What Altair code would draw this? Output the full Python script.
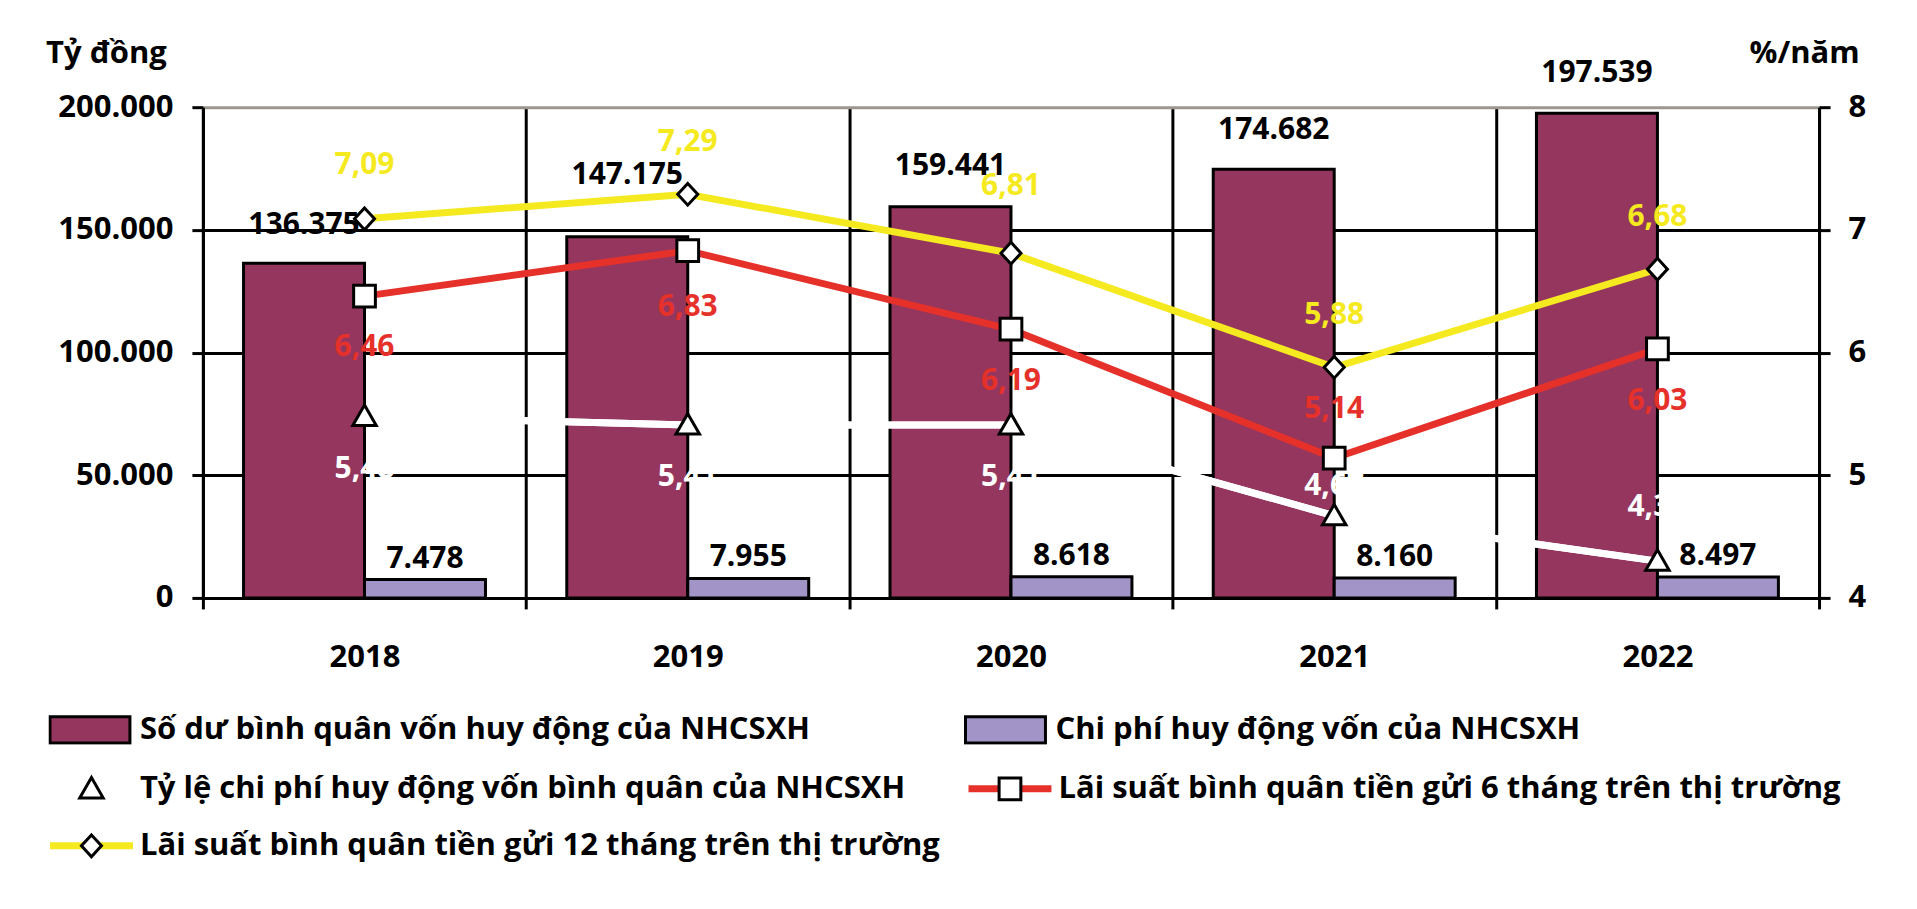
import altair as alt
import pandas as pd

# ---------------- data ----------------
years = ["2018", "2019", "2020", "2021", "2022"]
von_huy_dong = [136375, 147175, 159441, 174682, 197539]   # tỷ đồng
chi_phi = [7478, 7955, 8618, 8160, 8497]                   # tỷ đồng
ty_le_chi_phi = [5.48, 5.41, 5.41, 4.67, 4.30]             # %/năm
lai_suat_6t = [6.46, 6.83, 6.19, 5.14, 6.03]               # %/năm
lai_suat_12t = [7.09, 7.29, 6.81, 5.88, 6.68]              # %/năm

bar_names = ["Số dư bình quân vốn huy động của NHCSXH",
             "Chi phí huy động vốn của NHCSXH"]
line_names = ["Tỷ lệ chi phí huy động vốn bình quân của NHCSXH",
              "Lãi suất bình quân tiền gửi 6 tháng trên thị trường",
              "Lãi suất bình quân tiền gửi 12 tháng trên thị trường"]
line_codes = ["a", "b", "c"]

# ---------------- styling ----------------
FONT = "Open Sans"
FS = 31
PURPLE = "#95365F"
LAVENDER = "#A294C6"
BG = "#D3CCC8"
YELLOW = "#F5EA1F"
RED = "#E5312A"
WHITE = "#FFFFFF"
TOPLINE = "#9C9690"

# label nudges in px (negative = above the point)
dy_von = [-38, -62, -41, -39, -40]
dy_chi_phi = [-21, -21, -21, -21, -21]
dy_ty_le = [53, 52, 52, -30, -54]
dy_6t = [51, 56, 52, -49, 52]
dy_12t = [-54, -52, -67, -52, -52]

W, H = 1617, 491


def fmt_int(v):
    return f"{v:,}".replace(",", ".")


def fmt_rate(v):
    return f"{v:.2f}".replace(".", ",")


bar_series = [von_huy_dong, chi_phi]
bar_dys = [dy_von, dy_chi_phi]
bar_rows = []
for name, vals, dys in zip(bar_names, bar_series, bar_dys):
    for y, v, d in zip(years, vals, dys):
        bar_rows.append({"year": y, "series": name, "value": v,
                         "label": fmt_int(v), "dy": d})
bar_df = pd.DataFrame(bar_rows)

line_series = [ty_le_chi_phi, lai_suat_6t, lai_suat_12t]
line_dys = [dy_ty_le, dy_6t, dy_12t]
line_colors = [WHITE, RED, YELLOW]
line_rows = []
for name, code, vals, dys in zip(line_names, line_codes, line_series, line_dys):
    for y, v, d in zip(years, vals, dys):
        line_rows.append({"year": y, "series": name, "code": code, "value": v,
                          "label": fmt_rate(v), "dy": d})
line_df = pd.DataFrame(line_rows)

# ---------------- scales / axes ----------------
x_axis = alt.Axis(orient="bottom", title=None, tickBand="extent", grid=True,
                  gridColor="black", gridWidth=3, tickSize=11, tickWidth=3,
                  tickColor="black", domainColor="black", domainWidth=3,
                  labelPadding=34, labelAngle=0, labelFont=FONT, labelFontSize=FS,
                  labelFontWeight="bold", labelColor="black")
x_enc = alt.X("year:N", scale=alt.Scale(domain=years, paddingInner=0, paddingOuter=0),
              axis=x_axis)
xoff_enc = alt.XOffset("series:N", scale=alt.Scale(domain=bar_names, paddingInner=0,
                                                   paddingOuter=0.336))

left_axis = alt.Axis(
    orient="left", values=[0, 50000, 100000, 150000, 200000],
    labelExpr="replace(format(datum.value, ','), ',', '.')",
    grid=True,
    gridColor={"condition": {"test": "datum.value === 200000", "value": TOPLINE},
               "value": "black"},
    gridWidth=3, tickSize=11, tickWidth=3, tickColor="black",
    domainColor="black", domainWidth=3, labelPadding=19,
    labelFont=FONT, labelFontSize=FS, labelFontWeight="bold", labelColor="black",
    title="Tỷ đồng", titleAngle=0, titleX=-97, titleY=-54, titleAlign="center",
    titleBaseline="middle", titleFont=FONT, titleFontSize=FS,
    titleFontWeight="bold", titleColor="black")
y_left = alt.Y("value:Q", scale=alt.Scale(domain=[0, 200000], nice=False, zero=True),
               axis=left_axis)

right_axis = alt.Axis(
    orient="right", values=[4, 5, 6, 7, 8], format="d", grid=False,
    tickSize=11, tickWidth=3, tickColor="black", domainColor="black", domainWidth=3,
    labelPadding=18, labelFont=FONT, labelFontSize=FS, labelFontWeight="bold",
    labelColor="black",
    title="%/năm", titleAngle=0, titleX=-15, titleY=-54, titleAlign="center",
    titleBaseline="middle", titleFont=FONT, titleFontSize=FS,
    titleFontWeight="bold", titleColor="black")
y_right = alt.Y("value:Q", scale=alt.Scale(domain=[4, 8], nice=False, zero=False),
                axis=right_axis)

# ---------------- legends ----------------
RECT = "M-1,-0.33H1V0.33H-1Z"
TRI = "M0,-0.26L0.27,0.21L-0.27,0.21Z"
SQ = "M-0.25,-0.25H0.25V0.25H-0.25Z"
DIA = "M0,-0.25L0.23,0L0,0.25L-0.23,0Z"

leg_common = dict(title=None, padding=0, labelFont=FONT, labelFontSize=FS,
                  labelFontWeight="bold", labelColor="black", labelLimit=2000,
                  clipHeight=30, orient="none", columns=2, direction="horizontal")

legend_bars = alt.Legend(legendX=-154.5, legendY=608, symbolType=RECT,
                         symbolSize=6400, symbolStrokeColor="black",
                         symbolStrokeWidth=3, labelOffset=8.5, columnPadding=153,
                         rowPadding=0, **leg_common)
legend_lines = alt.Legend(legendX=-156.5, legendY=667, symbolType="stroke",
                          symbolSize=6889, symbolStrokeWidth=7, labelOffset=3.5,
                          columnPadding=24, rowPadding=26, zindex=1, **leg_common)
code_map = "{" + ", ".join(f"'{c}': '{n}'" for c, n in zip(line_codes, line_names)) + "}"
legend_marks = alt.Legend(legendX=-156.5, legendY=667, symbolSize=7569,
                          symbolStrokeWidth=3, labelOffset=3.5,
                          columnPadding=24, rowPadding=26, zindex=2, labelOpacity=0,
                          labelExpr=code_map + "[datum.label]", **leg_common)

# ---------------- left (bars) ----------------
bars = alt.Chart(bar_df).mark_bar(stroke="black", strokeWidth=3).encode(
    x=x_enc, xOffset=xoff_enc, y=y_left,
    fill=alt.Fill("series:N", scale=alt.Scale(domain=bar_names, range=[PURPLE, LAVENDER]),
                  legend=legend_bars),
)
left_layers = [bars]
for name in bar_names:
    sub = bar_df[bar_df["series"] == name]
    for d in sorted(sub["dy"].unique()):
        part = sub[sub["dy"] == d]
        left_layers.append(
            alt.Chart(part).mark_text(font=FONT, fontSize=30, fontWeight="bold",
                                      color="black", baseline="middle", align="center",
                                      dy=float(d)).encode(
                x=x_enc, xOffset=xoff_enc, y=y_left, text="label:N"))
left = alt.layer(*left_layers)

# ---------------- right (lines) ----------------
lines = alt.Chart(line_df).mark_line(strokeWidth=7).encode(
    x=x_enc, y=y_right,
    stroke=alt.Stroke("series:N", scale=alt.Scale(domain=line_names, range=line_colors),
                      legend=legend_lines),
)
ratio_df = line_df[line_df["series"] == line_names[0]]
white_line = alt.Chart(ratio_df).mark_line(strokeWidth=7, color=WHITE).encode(
    x=x_enc, y=y_right)
points = alt.Chart(line_df).mark_point(filled=True, fill="white", stroke="black",
                                       strokeWidth=3, size=7569, opacity=1).encode(
    x=x_enc, y=y_right,
    shape=alt.Shape("code:N", scale=alt.Scale(domain=line_codes, range=[TRI, SQ, DIA]),
                    legend=legend_marks),
)
text_layers = []
for name, col in zip(line_names, line_colors):
    sub = line_df[line_df["series"] == name]
    for d in sorted(sub["dy"].unique()):
        part = sub[sub["dy"] == d]
        text_layers.append(
            alt.Chart(part).mark_text(font=FONT, fontSize=30, fontWeight="bold",
                                      color=col, baseline="middle", align="center",
                                      dy=float(d)).encode(
                x=x_enc, y=y_right, text="label:N"))
right = alt.layer(lines, white_line, points, *text_layers)

chart = alt.layer(left, right).resolve_scale(y="independent").properties(
    width=W, height=H,
    autosize=alt.AutoSizeParams(type="none"),
    padding={"left": 195, "top": 99, "right": 90, "bottom": 303},
).configure_view(fill=BG, stroke=TOPLINE, strokeWidth=3).configure(font=FONT)

chart.save("out.html", embed_options={"renderer": "svg", "actions": False})
